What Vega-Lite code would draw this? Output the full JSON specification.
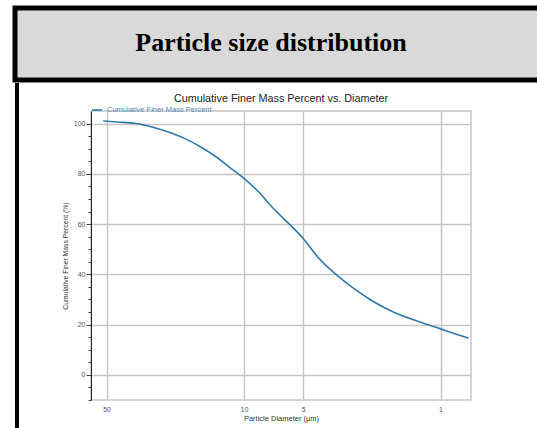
{
  "$schema": "https://vega.github.io/schema/vega-lite/v6.json",
  "padding": {"left": 12, "top": 5, "right": 0, "bottom": 0},
  "background": "white",
  "config": {"view": {"stroke": null}, "font": "Liberation Sans"},
  "spacing": 0,
  "align": "none",
  "resolve": {"legend": {"color": "independent"}, "scale": {"color": "independent"}},
  "vconcat": [
    {
      "width": 560,
      "height": 72,
      "data": {"values": [{"heading": "Particle size distribution"}]},
      "mark": {"type": "text", "font": "Liberation Serif", "fontSize": 26, "fontWeight": "bold", "color": "black", "dx": -24, "dy": -1},
      "encoding": {"text": {"field": "heading", "type": "nominal"}},
      "view": {"fill": "#d9d9d9", "stroke": "black", "strokeWidth": 5}
    },
    {
      "align": "none",
      "spacing": 42,
      "resolve": {"legend": {"color": "independent"}, "scale": {"color": "independent"}},
      "hconcat": [
        {
          "width": 4,
          "height": 350,
          "data": {"values": [{"heading": ""}]},
          "mark": {"type": "text", "fontSize": 0},
          "encoding": {"text": {"field": "heading", "type": "nominal"}},
          "view": {"fill": "black", "stroke": null}
        },
        {
          "spacing": 7,
          "align": "none",
          "resolve": {"legend": {"color": "independent"}, "scale": {"color": "independent"}},
          "vconcat": [
            {
              "width": 1,
              "height": 1,
              "data": {"values": [{"heading": ""}]},
              "mark": {"type": "text", "fontSize": 0},
              "encoding": {"text": {"field": "heading", "type": "nominal"}},
              "view": {"stroke": null}
            },
            {
              "width": 380,
              "height": 289,
              "title": {"text": "Cumulative Finer Mass Percent vs. Diameter", "fontSize": 10.8, "fontWeight": "normal", "color": "#222222", "offset": 0.5, "anchor": "middle"},
              "view": {"stroke": "#c6c6c6", "strokeWidth": 1.5},
              "data": {"values": [
                {"diameter": 52, "percent": 101.0, "series": "Cumulative Finer Mass Percent"},
                {"diameter": 44, "percent": 100.6, "series": "Cumulative Finer Mass Percent"},
                {"diameter": 36, "percent": 100.1, "series": "Cumulative Finer Mass Percent"},
                {"diameter": 30, "percent": 98.8, "series": "Cumulative Finer Mass Percent"},
                {"diameter": 24.5, "percent": 96.7, "series": "Cumulative Finer Mass Percent"},
                {"diameter": 20.2, "percent": 94.2, "series": "Cumulative Finer Mass Percent"},
                {"diameter": 16.6, "percent": 90.7, "series": "Cumulative Finer Mass Percent"},
                {"diameter": 13.7, "percent": 86.5, "series": "Cumulative Finer Mass Percent"},
                {"diameter": 11.9, "percent": 82.7, "series": "Cumulative Finer Mass Percent"},
                {"diameter": 10, "percent": 78.2, "series": "Cumulative Finer Mass Percent"},
                {"diameter": 8.4, "percent": 72.7, "series": "Cumulative Finer Mass Percent"},
                {"diameter": 7.2, "percent": 66.8, "series": "Cumulative Finer Mass Percent"},
                {"diameter": 6.25, "percent": 62.0, "series": "Cumulative Finer Mass Percent"},
                {"diameter": 5.9, "percent": 60.1, "series": "Cumulative Finer Mass Percent"},
                {"diameter": 5, "percent": 54.3, "series": "Cumulative Finer Mass Percent"},
                {"diameter": 4.15, "percent": 46.3, "series": "Cumulative Finer Mass Percent"},
                {"diameter": 3.3, "percent": 39.1, "series": "Cumulative Finer Mass Percent"},
                {"diameter": 2.7, "percent": 33.8, "series": "Cumulative Finer Mass Percent"},
                {"diameter": 2.2, "percent": 29.2, "series": "Cumulative Finer Mass Percent"},
                {"diameter": 1.76, "percent": 25.2, "series": "Cumulative Finer Mass Percent"},
                {"diameter": 1.34, "percent": 21.6, "series": "Cumulative Finer Mass Percent"},
                {"diameter": 1.0, "percent": 18.3, "series": "Cumulative Finer Mass Percent"},
                {"diameter": 0.84, "percent": 16.3, "series": "Cumulative Finer Mass Percent"},
                {"diameter": 0.72, "percent": 14.6, "series": "Cumulative Finer Mass Percent"}
              ]},
              "mark": {"type": "line", "strokeWidth": 1.6, "interpolate": "monotone"},
              "encoding": {
                "x": {
                  "field": "diameter", "type": "quantitative",
                  "scale": {"type": "log", "domain": [0.7, 60], "reverse": true, "nice": false},
                  "axis": {
                    "values": [50, 10, 5, 1], "format": "d",
                    "grid": true, "gridColor": "#c6c6c6", "gridWidth": 1.5,
                    "ticks": false, "domain": false,
                    "labelFontSize": 7, "labelColor": "#555555", "labelPadding": 5,
                    "title": "Particle Diameter (µm)", "titleFontSize": 7.5, "titleFontWeight": "normal", "titleColor": "#333333", "titlePadding": 2
                  }
                },
                "y": {
                  "field": "percent", "type": "quantitative",
                  "scale": {"domain": [-10, 105], "nice": false, "zero": false},
                  "axis": {
                    "values": [-10, -5, 0, 5, 10, 15, 20, 25, 30, 35, 40, 45, 50, 55, 60, 65, 70, 75, 80, 85, 90, 95, 100],
                    "labelExpr": "datum.value % 20 === 0 ? datum.label : ''",
                    "grid": true, "gridColor": "#c6c6c6", "gridWidth": 1.5,
                    "gridOpacity": {"condition": {"test": "datum.value % 20 === 0", "value": 1}, "value": 0},
                    "tickSize": {"condition": {"test": "datum.value % 20 === 0", "value": 5}, "value": 3},
                    "tickColor": "#444444", "domainColor": "#222222",
                    "labelFontSize": 7, "labelColor": "#555555", "labelPadding": 1,
                    "title": "Cumulative Finer Mass Percent (%)", "titleFontSize": 6.8, "titleFontWeight": "normal", "titleColor": "#333333", "titlePadding": 5
                  }
                },
                "color": {
                  "field": "series", "type": "nominal",
                  "scale": {"range": ["#2f79a8"]},
                  "legend": {
                    "orient": "top", "direction": "horizontal", "title": null,
                    "labelFontSize": 7.5, "labelColor": "#5b8ab0",
                    "symbolType": "stroke", "symbolSize": 100, "symbolStrokeWidth": 1.6,
                    "offset": -3, "padding": 0, "labelOffset": 4
                  }
                }
              }
            }
          ]
        }
      ]
    }
  ]
}
